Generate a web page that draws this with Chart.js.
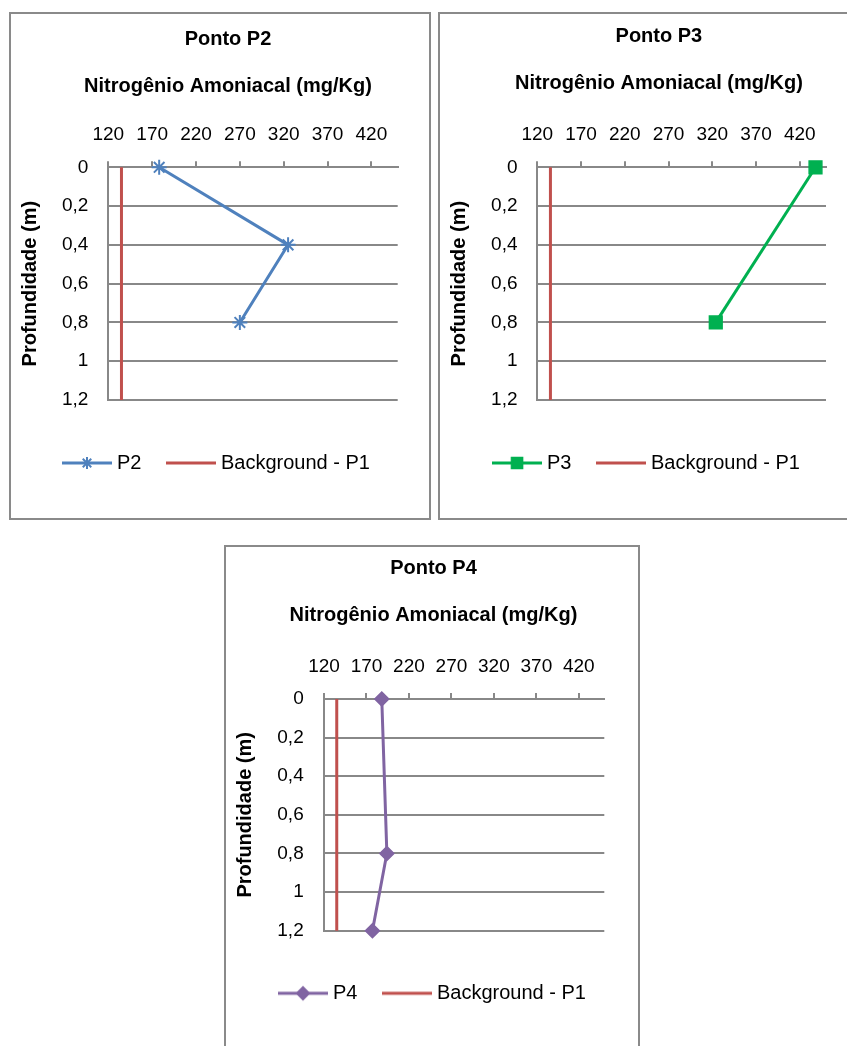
<!DOCTYPE html>
<html>
<head>
<meta charset="utf-8">
<script src="https://cdn.jsdelivr.net/npm/chart.js"></script>
<style>
  body { margin: 0; background: #fff; overflow: hidden; }
  .painel { position: absolute; border: 2px solid #8a8a8a; background: #fff; }
  .painel canvas { display: block; }
</style>
</head>
<body>
<div class="painel" style="left:9px;top:12px"><canvas id="chartP2" width="418" height="504"></canvas></div>
<div class="painel" style="left:438px;top:12px"><canvas id="chartP3" width="418" height="504"></canvas></div>
<div class="painel" style="left:224px;top:545px"><canvas id="chartP4" width="412" height="504"></canvas></div>
<script>
// Nitrogênio amoniacal (mg/Kg) x profundidade (m), pontos P2, P3 e P4
const depthTicks = [0, 0.2, 0.4, 0.6, 0.8, 1, 1.2];
const depthLabels = ['0', '0,2', '0,4', '0,6', '0,8', '1', '1,2'];
const concTicks = [120, 170, 220, 270, 320, 370, 420];

const p2Depth = [0, 0.4, 0.8];
const p2Values = [178, 325, 270];
const p3Depth = [0, 0.8];
const p3Values = [438, 324];
const p4Depth = [0, 0.8, 1.2];
const p4Values = [188, 194, 177];
const backgroundDepth = [0, 1.2];
const backgroundValues = [135, 135];

Chart.defaults.font.family = '"Liberation Sans", Arial, sans-serif';
Chart.defaults.font.size = 19;
Chart.defaults.color = '#000';

const gray = '#888888';

function points(values, depths) {
    return values.map((v, i) => ({ x: v, y: depths[i] }));
}

// little line + marker picture for the legend
function legendIcon(color, style, radius) {
    const c = document.createElement('canvas');
    c.width = 50;
    c.height = 20;
    const ctx = c.getContext('2d');
    ctx.strokeStyle = color;
    ctx.fillStyle = color;
    ctx.lineWidth = 3;
    ctx.beginPath();
    ctx.moveTo(0, 10);
    ctx.lineTo(50, 10);
    ctx.stroke();
    if (style) {
        ctx.lineWidth = 2;
        Chart.helpers.drawPoint(ctx, { pointStyle: style, radius: radius, borderWidth: 2, rotation: 0 }, 25, 10);
    }
    return c;
}

// shifts title and legend after layout (Excel places them off-centre)
const nudgePlugin = {
    id: 'nudge',
    afterLayout(chart, args, o) {
        const t = chart.titleBlock;
        const l = chart.legend;
        if (t) { t.left += o.titleDx; t.right += o.titleDx; }
        if (l) {
            l.left += o.legendDx; l.right += o.legendDx;
            l.top += o.legendDy; l.bottom += o.legendDy;
        }
    }
};

function makeChart(id, p) {
    const s = p.serie;
    const icons = [legendIcon(s.color, s.style, s.legendRadius), legendIcon('#C0504D', null, 0)];
    return new Chart(document.getElementById(id).getContext('2d'), {
        type: 'scatter',
        data: {
            datasets: [{
                label: s.label,
                data: points(s.values, s.depth),
                showLine: true,
                borderColor: s.color,
                backgroundColor: s.color,
                borderWidth: 3,
                pointStyle: s.style,
                pointRadius: s.radius,
                pointBorderWidth: s.pointBorder,
                pointBorderColor: s.color,
                pointBackgroundColor: s.color,
                clip: false
            }, {
                label: 'Background - P1',
                data: points(backgroundValues, backgroundDepth),
                showLine: true,
                borderColor: '#C0504D',
                borderWidth: 3,
                pointRadius: 0,
                clip: false
            }]
        },
        plugins: [nudgePlugin],
        options: {
            responsive: false,
            animation: false,
            layout: { padding: { left: 0, top: 0, right: p.padRight, bottom: p.padBottom } },
            scales: {
                x: {
                    type: 'linear',
                    position: 'top',
                    min: 120,
                    max: 450,
                    afterBuildTicks: axis => { axis.ticks = concTicks.map(v => ({ value: v })); },
                    ticks: { autoSkip: false, maxRotation: 0, padding: 14.9, font: { size: 19 } },
                    grid: { drawOnChartArea: false, drawTicks: true, tickLength: 6, color: gray, lineWidth: 2 },
                    border: { display: true, color: gray, width: 2 }
                },
                y: {
                    type: 'linear',
                    reverse: true,
                    min: 0,
                    max: 1.2,
                    afterBuildTicks: axis => { axis.ticks = depthTicks.map(v => ({ value: v })); },
                    ticks: {
                        autoSkip: false,
                        padding: p.yTickPad,
                        font: { size: 19 },
                        callback: (v, i) => depthLabels[i]
                    },
                    grid: { color: gray, lineWidth: 2, drawTicks: false },
                    border: { display: true, color: gray, width: 2 },
                    title: {
                        display: true,
                        text: 'Profundidade (m)',
                        font: { size: 20, weight: 'bold' },
                        padding: { top: p.yTitlePad, bottom: 0 }
                    }
                }
            },
            plugins: {
                title: {
                    display: true,
                    text: [p.title, '', 'Nitrogênio Amoniacal (mg/Kg)'],
                    font: { size: 20, weight: 'bold', lineHeight: '23.6px' },
                    color: '#000',
                    padding: { top: p.titleTop, bottom: p.titleBottom }
                },
                legend: {
                    position: 'bottom',
                    labels: {
                        usePointStyle: true,
                        pointStyleWidth: 40,
                        padding: 29.5,
                        font: { size: 20 },
                        color: '#000',
                        generateLabels: chart => chart.data.datasets.map((ds, i) => ({
                            text: ds.label,
                            datasetIndex: i,
                            pointStyle: icons[i],
                            hidden: false,
                            lineWidth: 0,
                            fontColor: '#000'
                        }))
                    }
                },
                tooltip: { enabled: false },
                nudge: { titleDx: p.titleDx, legendDx: p.legendDx, legendDy: p.legendDy }
            }
        }
    });
}

makeChart('chartP2', {
    title: 'Ponto P2',
    serie: { label: 'P2', values: p2Values, depth: p2Depth, color: '#4F81BD', style: 'star', radius: 7.5, pointBorder: 2, legendRadius: 6 },
    padRight: 31.3, padBottom: 58.5,
    titleTop: 13.5, titleBottom: 10.4,
    yTickPad: 19.95, yTitlePad: 7,
    titleDx: 23.65, legendDx: 14.1, legendDy: 23.5
});

makeChart('chartP3', {
    title: 'Ponto P3',
    serie: { label: 'P3', values: p3Values, depth: p3Depth, color: '#00B050', style: 'rect', radius: 9, pointBorder: 1.5, legendRadius: 7.5 },
    padRight: 32, padBottom: 58.5,
    titleTop: 10.2, titleBottom: 13.7,
    yTickPad: 19.8, yTitlePad: 7.3,
    titleDx: 25.9, legendDx: 15.5, legendDy: 23.5
});

makeChart('chartP4', {
    title: 'Ponto P4',
    serie: { label: 'P4', values: p4Values, depth: p4Depth, color: '#8064A2', style: 'rectRot', radius: 7, pointBorder: 1.5, legendRadius: 6 },
    padRight: 33.7, padBottom: 60.8,
    titleTop: 9.5, titleBottom: 13.1,
    yTickPad: 20.3, yTitlePad: 7,
    titleDx: 18.35, legendDx: 19.3, legendDy: 23.1
});
</script>
</body>
</html>
